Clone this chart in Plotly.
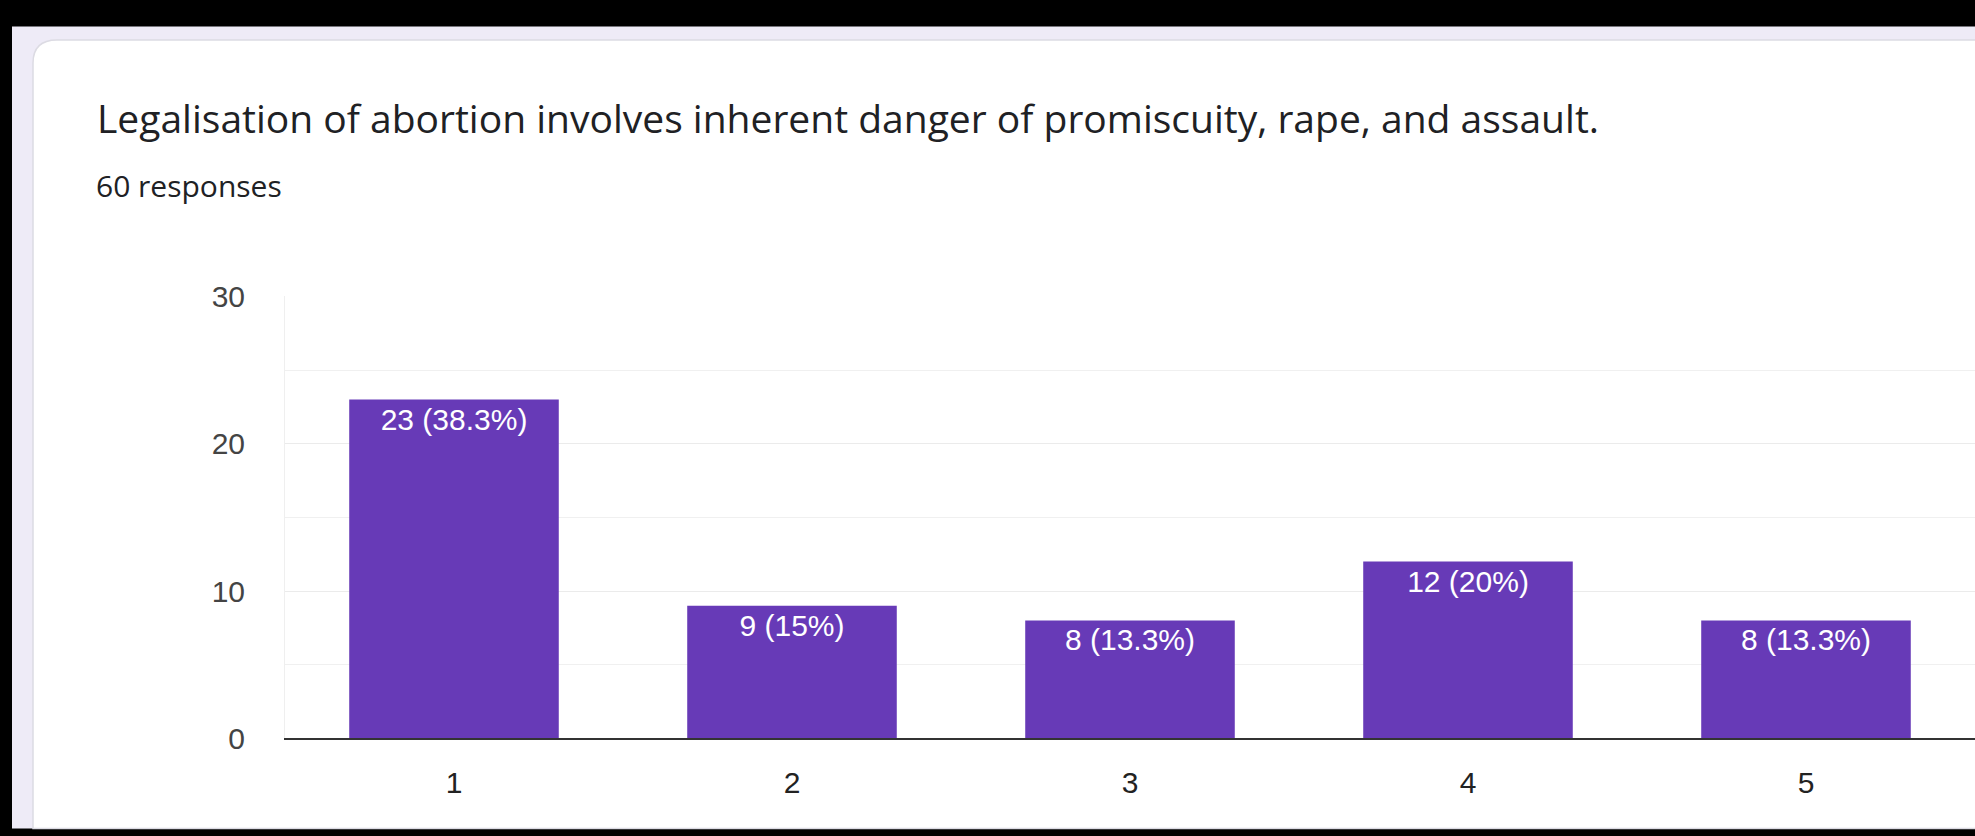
import plotly.graph_objects as go

# Survey data
categories = [1, 2, 3, 4, 5]
counts = [23, 9, 8, 12, 8]
y_ticks = [0, 10, 20, 30]
title_text = "Legalisation of abortion involves inherent danger of promiscuity, rape, and assault."
subtitle_text = "60 responses"

W, H = 1975, 836


def px(x):
    return x / W


def py(y):
    return 1 - y / H


total = sum(counts)


def fmt_pct(v):
    p = round(v / total * 100, 1)
    s = f"{p:.1f}"
    if s.endswith(".0"):
        s = s[:-2]
    return s + "%"


labels = [f"{c} ({fmt_pct(c)})" for c in counts]

fig = go.Figure()
fig.add_trace(go.Bar(
    x=categories,
    y=counts,
    width=0.62,
    marker=dict(color="#673ab7", line=dict(width=0)),
    text=labels,
    textposition="inside",
    insidetextanchor="end",
    textangle=0,
    textfont=dict(family="Liberation Sans, Arial, sans-serif", size=30, color="#ffffff"),
    hoverinfo="skip",
))

# card geometry (pixels)
card_left, card_top, r = 33, 25, 24
card_path = (
    f"M {px(card_left)},{py(H + 10)} "
    f"L {px(card_left)},{py(card_top + r)} "
    f"Q {px(card_left)},{py(card_top)} {px(card_left + r)},{py(card_top)} "
    f"L {px(W + 10)},{py(card_top)} "
    f"L {px(W + 10)},{py(H + 10)} Z"
)

fig.update_layout(
    width=W,
    height=H,
    margin=dict(l=0, r=0, t=0, b=0),
    paper_bgcolor="#000000",
    plot_bgcolor="rgba(0,0,0,0)",
    showlegend=False,
    shapes=[
        dict(type="rect", xref="paper", yref="paper",
             x0=px(12), x1=px(W + 10), y0=py(H + 10), y1=py(11),
             fillcolor="#eeebf7", line=dict(width=0), layer="below"),
        dict(type="path", xref="paper", yref="paper", path=card_path,
             fillcolor="#ffffff", line=dict(color="#dcdbe3", width=1.5), layer="below"),
    ],
    annotations=[
        dict(text=title_text, xref="paper", yref="paper",
             x=px(95), y=py(106), xanchor="left", yanchor="middle",
             showarrow=False,
             font=dict(family="Open Sans, sans-serif", size=39, color="#202124")),
        dict(text=subtitle_text, xref="paper", yref="paper",
             x=px(94), y=py(176), xanchor="left", yanchor="middle",
             showarrow=False,
             font=dict(family="Open Sans, sans-serif", size=30, color="#202124")),
    ],
    xaxis=dict(
        domain=[px(285), 1.0],
        range=[0.5, 5.5],
        tickvals=categories,
        ticktext=[str(c) for c in categories],
        showgrid=False,
        zeroline=False,
        showline=True,
        linecolor="#333333",
        linewidth=2,
        ticks="",
        ticklabelstandoff=17,
        tickfont=dict(family="Liberation Sans, Arial, sans-serif", size=30, color="#222222"),
        fixedrange=True,
    ),
    yaxis=dict(
        domain=[py(752), py(292)],
        range=[0, 30],
        tickvals=y_ticks,
        showgrid=True,
        gridcolor="#ebebeb",
        gridwidth=1,
        minor=dict(dtick=5, showgrid=True, gridcolor="#f0f0f0", gridwidth=1),
        zeroline=False,
        showline=True,
        linecolor="#efefef",
        linewidth=1,
        ticks="",
        ticklabelstandoff=33,
        tickfont=dict(family="Liberation Sans, Arial, sans-serif", size=30, color="#444444"),
        fixedrange=True,
    ),
)

fig.write_html("out.html")
